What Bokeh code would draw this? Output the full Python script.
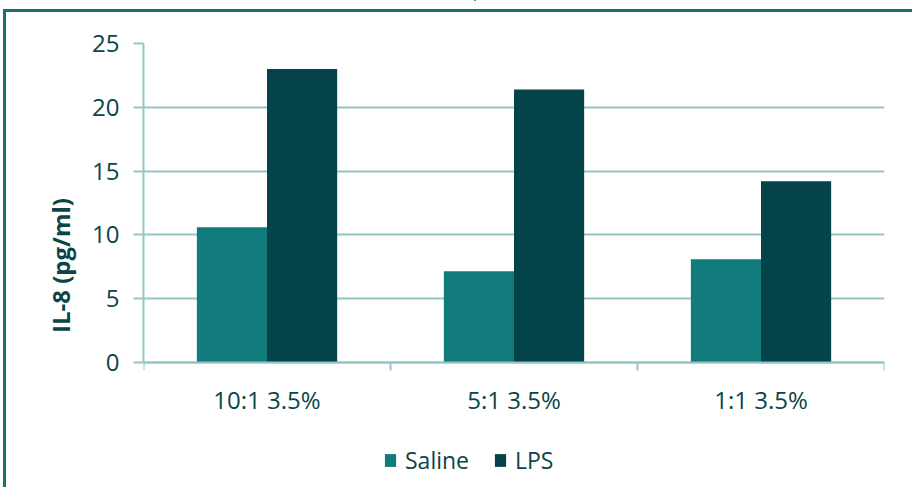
from bokeh.plotting import figure
from bokeh.models import (Range1d, FixedTicker, Legend, LegendItem,
                          ColumnDataSource, InlineStyleSheet)
from bokeh.embed import file_html
from bokeh.resources import INLINE

categories = ["10:1 3.5%", "5:1 3.5%", "1:1 3.5%"]
saline = [10.6, 7.15, 8.1]
lps = [23.0, 21.4, 14.2]
y_ticks = [0, 5, 10, 15, 20, 25]

TEXT = "#0b4548"
GRID = "#93c5c6"
SAL_C = "#117a7b"
LPS_C = "#04434a"
EDGE = "#1b6e72"
FONT = "Open Sans"

idx = list(range(len(categories)))
bw = 0.284
src = ColumnDataSource(dict(
    xs=[i + 0.5 - bw / 2 for i in idx],
    xl=[i + 0.5 + bw / 2 for i in idx],
    saline=saline, lps=lps))

css = InlineStyleSheet(css=f"""
:host::after {{ content: ""; position: absolute; left: 3px; top: 9px;
  right: 0px; bottom: 0px; border-left: 3px solid {EDGE};
  border-top: 3px solid {EDGE}; pointer-events: none; }}
:host::before {{ content: ""; position: absolute; left: 474px; top: 0px;
  width: 2px; height: 10px; background: {EDGE}; pointer-events: none; }}
""")

# y range extends below zero so the legend area lies inside the frame;
# the x axis is pinned at y = 0
p = figure(width=912, height=487, output_backend="svg", toolbar_location=None,
           x_range=Range1d(0, len(categories)), y_range=Range1d(-9.796, 25),
           min_border_left=143, min_border_right=28, min_border_top=43,
           min_border_bottom=0, stylesheets=[css])
p.outline_line_color = None
p.background_fill_color = "white"
p.border_fill_color = "white"

r1 = p.vbar(x="xs", top="saline", width=bw, source=src, fill_color=SAL_C, line_color=None)
r2 = p.vbar(x="xl", top="lps", width=bw, source=src, fill_color=LPS_C, line_color=None)

# grid
p.xgrid.grid_line_color = None
p.ygrid.grid_line_color = GRID
p.ygrid.grid_line_width = 2
p.ygrid.ticker = FixedTicker(ticks=y_ticks)

# y axis
ya = p.yaxis[0]
ya.bounds = (0, 25)
ya.ticker = FixedTicker(ticks=y_ticks, minor_ticks=[])
ya.axis_line_color = GRID
ya.axis_line_width = 2
ya.major_tick_line_color = GRID
ya.major_tick_line_width = 2
ya.major_tick_in = 0
ya.major_tick_out = 10
ya.major_label_standoff = 14
ya.major_label_text_font = FONT
ya.major_label_text_font_size = "24px"
ya.major_label_text_color = TEXT
ya.axis_label = "IL-8 (pg/ml)"
ya.axis_label_text_font = FONT
ya.axis_label_text_font_size = "24px"
ya.axis_label_text_font_style = "bold"
ya.axis_label_text_color = TEXT
ya.axis_label_standoff = 12

# x axis
xa = p.xaxis[0]
xa.fixed_location = 0
xa.ticker = FixedTicker(ticks=[i + 0.5 for i in idx], minor_ticks=list(range(len(categories) + 1)))
xa.major_label_overrides = {i + 0.5: c for i, c in zip(idx, categories)}
xa.axis_line_color = GRID
xa.axis_line_width = 2
xa.major_tick_line_color = None
xa.major_tick_in = 0
xa.major_tick_out = 0
xa.minor_tick_line_color = GRID
xa.minor_tick_line_width = 2
xa.minor_tick_in = 0
xa.minor_tick_out = 8
xa.major_label_standoff = 12
xa.major_label_text_font = FONT
xa.major_label_text_font_size = "24px"
xa.major_label_text_color = TEXT

legend = Legend(items=[LegendItem(label="Saline", renderers=[r1]),
                       LegendItem(label="LPS", renderers=[r2])],
                orientation="horizontal", location=(240, 11),
                padding=0, margin=0, spacing=24, label_standoff=8,
                glyph_width=14, glyph_height=16,
                label_text_font=FONT, label_text_font_size="23px",
                label_text_color=TEXT, border_line_color=None,
                background_fill_alpha=0)
p.add_layout(legend, "center")

open("out.html", "w").write(file_html(p, INLINE))
